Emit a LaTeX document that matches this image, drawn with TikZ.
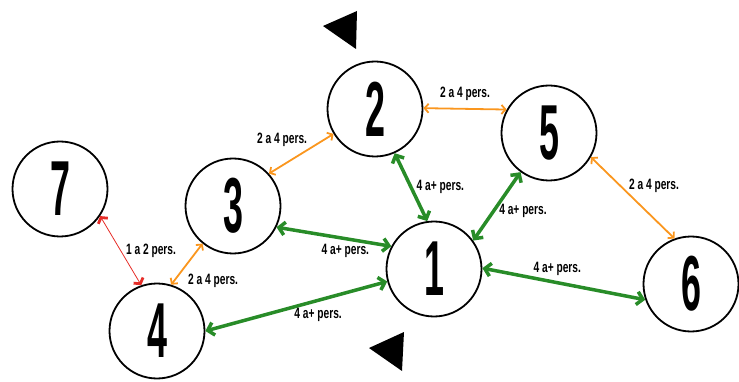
\documentclass[tikz,border=0pt]{standalone}
\usepackage{fontspec}
\setmainfont{Liberation Sans}
\newfontfamily\numfont[FakeStretch=0.46]{Liberation Sans}
\newfontfamily\labfont[FakeStretch=0.68]{Liberation Sans}
\usetikzlibrary{arrows.meta}
\definecolor{linkgreen}{RGB}{40,140,40}
\definecolor{linkorange}{RGB}{250,150,30}
\definecolor{linkred}{RGB}{230,45,40}
\tikzset{
  room/.style={circle,draw,line width=1.8pt,minimum size=95pt,inner sep=0pt,
               font=\numfont\bfseries\fontsize{78}{78}\selectfont},
  % links by group size
  bigpath/.style={linkgreen,line width=3.5pt,
    {Straight Barb[length=6pt,width=13pt]}-{Straight Barb[length=6pt,width=13pt]}},
  midpath/.style={linkorange,line width=1.8pt,
    {Straight Barb[length=4pt,width=9pt]}-{Straight Barb[length=4pt,width=9pt]}},
  smallpath/.style={linkred,line width=0.8pt,
    {Straight Barb[length=4pt,width=11pt,line width=2.8pt]}-{Straight Barb[length=4pt,width=11pt,line width=2.8pt]}},
  lab/.style={font=\labfont\bfseries\fontsize{15}{15}\selectfont,text=black,inner sep=1pt},
  pointer/.style={fill=black},
}

\begin{document}
\begin{tikzpicture}[x=1pt,y=-1pt]
\useasboundingbox (0,0) rectangle (739,382);
% rooms
\node[room] (r7) at (60,189) {7};
\node[room] (r3) at (233,206) {3};
\node[room] (r2) at (375,109) {2};
\node[room] (r5) at (549,133) {5};
\node[room] (r1) at (434,269) {1};
\node[room] (r6) at (691,284) {6};
\node[room] (r4) at (157,331) {4};
% links
\draw[smallpath] (r7.-34) -- node[lab,pos=0.5,right=4pt]{1 a 2 pers.} (r4.109);
\draw[midpath] (r4.73) -- node[lab,pos=0.1,right=12pt]{2 a 4 pers.} (r3.231);
\draw[midpath] (r3.42) -- node[lab,pos=0.62,anchor=south east]{2 a 4 pers.} (r2.211);
\draw[midpath] (r2.1) -- node[lab,midway,above=6pt]{2 a 4 pers.} (r5.151);
\draw[midpath] (r5.-30) -- node[lab,pos=0.35,right=7pt]{2 a 4 pers.} (r6.110);
\draw[bigpath] (r2.-66) -- node[lab,pos=0.5,right=3pt]{4 a+ pers.} (r1.98);
\draw[bigpath] (r5.234) -- node[lab,pos=0.57,right=3pt]{4 a+ pers.} (r1.36);
\draw[bigpath] (r3.-26) -- node[lab,pos=0.6,below=3pt]{4 a+ pers.} (r1.152);
\draw[bigpath] (r1.1) -- node[lab,pos=0.46,above=4pt]{4 a+ pers.} (r6.199);
\draw[bigpath] (r4.0) -- node[lab,pos=0.62,below=5pt]{4 a+ pers.} (r1.195);
% pointers
\fill[pointer] (323,26) -- (357,11) -- (356,49) -- cycle;
\fill[pointer] (369,348) -- (404,332) -- (402,371) -- cycle;
\end{tikzpicture}
\end{document}
